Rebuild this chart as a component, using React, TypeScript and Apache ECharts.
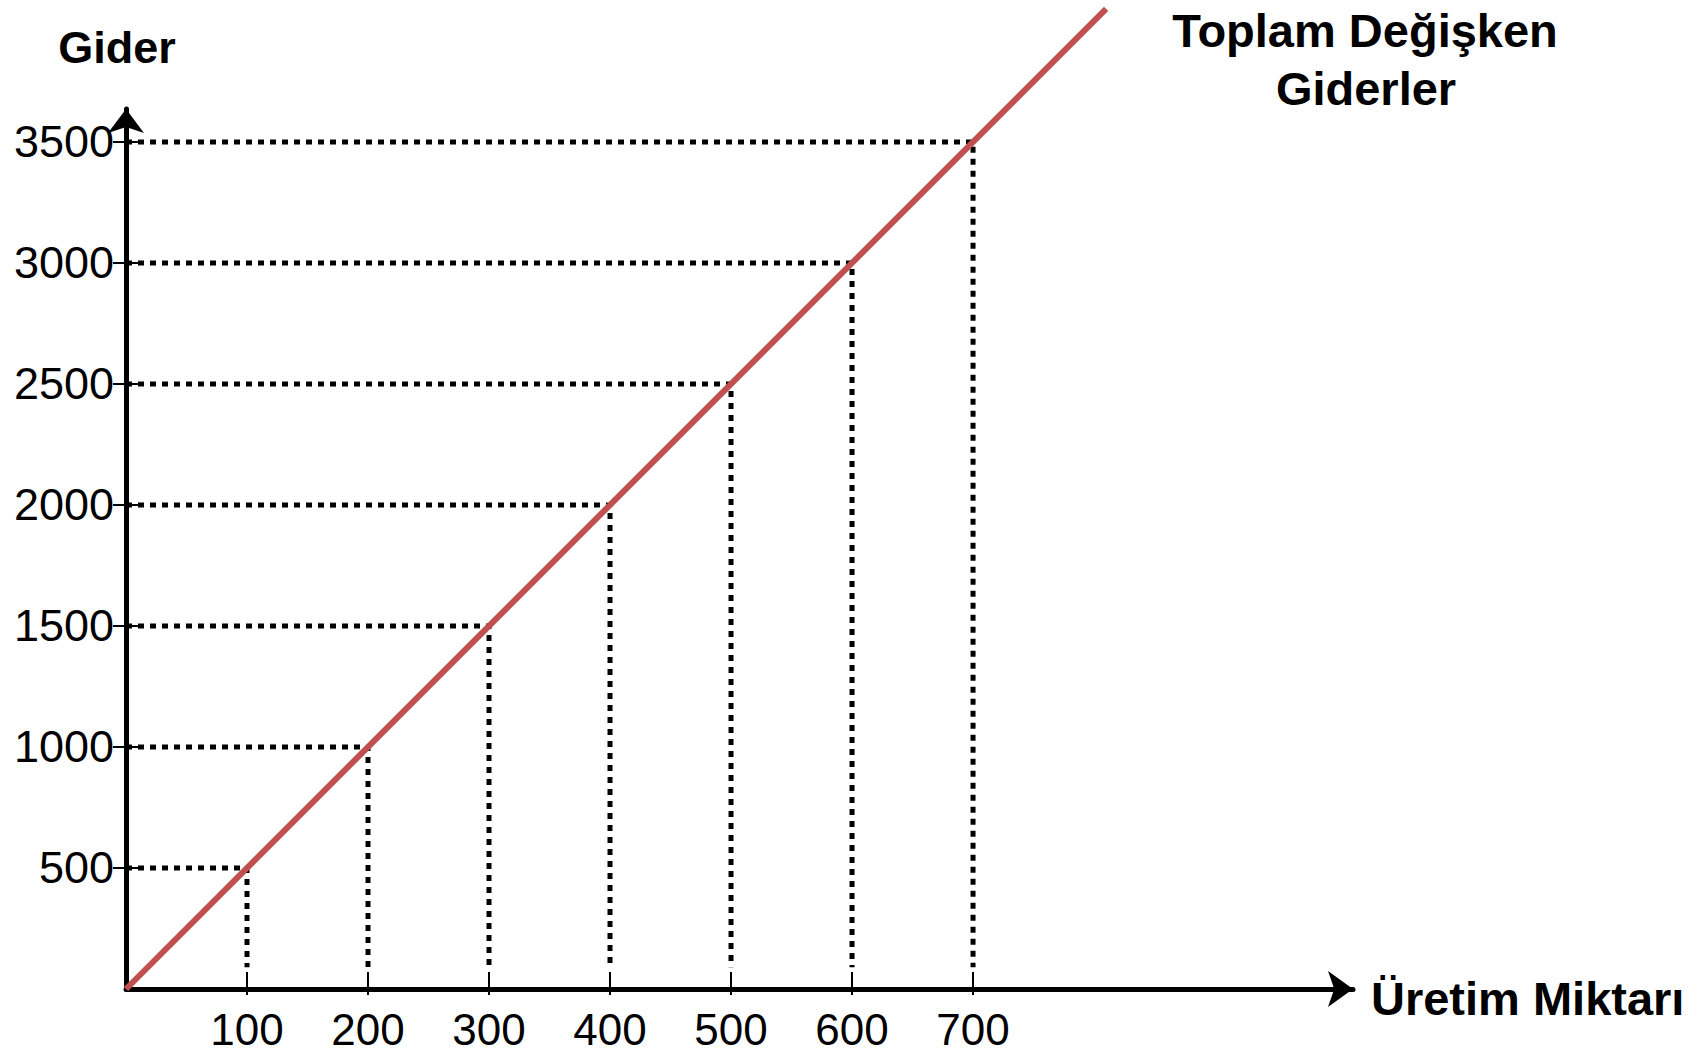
import React, { useEffect, useRef } from "react";
import * as echarts from "echarts";

// Üretim miktarı (x) and the matching toplam değişken gider (y) guide points
const quantities = [100, 200, 300, 400, 500, 600, 700];
const costs = [500, 1000, 1500, 2000, 2500, 3000, 3500];
const xTickValues = [100, 200, 300, 400, 500, 600, 700];
const yTickValues = [500, 1000, 1500, 2000, 2500, 3000, 3500];
// Toplam değişken giderler: cost = 5 × quantity, drawn from origin past the top
const costLineX = [0, 810];
const costLineY = [0, 4050];

const X_MAX = 1014;
const Y_MAX = 3636;
const DROP_END = 90; // vertical guide lines stop a little above the x axis

const FONT = "'Liberation Sans', Arial, Helvetica, sans-serif";

export default function App() {
  const ref = useRef<HTMLDivElement>(null);

  useEffect(() => {
    if (!ref.current) return;
    const chart = echarts.init(ref.current, null, { renderer: "svg" });

    const guideSeries = quantities.map((q, i) => ({
      type: "line",
      name: "guide" + q,
      data: [
        [0, costs[i]],
        [q, costs[i]],
        [q, DROP_END],
      ],
      symbol: "none",
      silent: true,
      z: 2,
      lineStyle: { color: "#000", width: 5, type: [6, 6], cap: "butt" },
    }));

    const lineSeries = {
      type: "line",
      name: "Toplam Değişken Giderler",
      data: costLineX.map((x, i) => [x, costLineY[i]]),
      symbol: "none",
      clip: false,
      z: 5,
      lineStyle: { color: "#C0504D", width: 6 },
    };

    const plain = (v: number) => String(v);

    chart.setOption({
      animation: false,
      backgroundColor: "#ffffff",
      grid: {
        left: 126,
        right: 1707 - 1353,
        top: 109,
        bottom: 1054 - 989,
        containLabel: false,
        outerBoundsMode: "none",
      },
      xAxis: [
        {
          type: "value",
          min: 0,
          max: X_MAX,
          position: "bottom",
          splitLine: { show: false },
          axisLine: {
            show: true,
            symbol: ["none", "arrow"],
            symbolSize: [27, 25],
            lineStyle: { color: "#000", width: 5 },
          },
          axisTick: {
            show: true,
            inside: true,
            length: 17,
            customValues: xTickValues,
            lineStyle: { color: "#000", width: 2 },
          },
          axisLabel: {
            show: true,
            customValues: xTickValues,
            formatter: plain,
            color: "#000",
            fontSize: 44,
            fontFamily: FONT,
            margin: 18,
          },
        },
        {
          type: "value",
          min: 0,
          max: X_MAX,
          position: "bottom",
          splitLine: { show: false },
          axisLine: { show: false },
          axisTick: {
            show: true,
            inside: false,
            length: 6,
            customValues: xTickValues,
            lineStyle: { color: "#000", width: 2 },
          },
          axisLabel: { show: false },
        },
      ],
      yAxis: [
        {
          type: "value",
          min: 0,
          max: Y_MAX,
          position: "left",
          splitLine: { show: false },
          axisLine: {
            show: true,
            symbol: ["none", "arrow"],
            symbolSize: [27, 24],
            lineStyle: { color: "#000", width: 5 },
          },
          axisTick: {
            show: true,
            inside: false,
            length: 13,
            customValues: yTickValues,
            lineStyle: { color: "#000", width: 2 },
          },
          axisLabel: {
            show: true,
            customValues: yTickValues,
            formatter: plain,
            color: "#000",
            fontSize: 45,
            fontFamily: FONT,
            margin: 12,
            padding: [0, 0, 10, 0],
          },
        },
        {
          type: "value",
          min: 0,
          max: Y_MAX,
          position: "left",
          splitLine: { show: false },
          axisLine: { show: false },
          axisTick: {
            show: true,
            inside: true,
            length: 16,
            customValues: yTickValues,
            lineStyle: { color: "#000", width: 2 },
          },
          axisLabel: { show: false },
        },
      ],
      graphic: [
        {
          type: "text",
          x: 117,
          y: 47.5,
          style: {
            text: "Gider",
            font: `bold 45px ${FONT}`,
            fill: "#000",
            textAlign: "center",
            textVerticalAlign: "middle",
          },
        },
        {
          type: "text",
          x: 1371,
          y: 998,
          style: {
            text: "Üretim Miktarı",
            font: `bold 47px ${FONT}`,
            fill: "#000",
            textAlign: "left",
            textVerticalAlign: "middle",
          },
        },
        {
          type: "text",
          x: 1365,
          y: 30,
          style: {
            text: "Toplam Değişken",
            font: `bold 47px ${FONT}`,
            fill: "#000",
            textAlign: "center",
            textVerticalAlign: "middle",
          },
        },
        {
          type: "text",
          x: 1366,
          y: 88,
          style: {
            text: "Giderler",
            font: `bold 47px ${FONT}`,
            fill: "#000",
            textAlign: "center",
            textVerticalAlign: "middle",
          },
        },
      ],
      series: [...guideSeries, lineSeries],
    });

    return () => {
      chart.dispose();
    };
  }, []);

  return (
    <div
      ref={ref}
      style={{
        position: "absolute",
        left: 0,
        top: 0,
        width: 1707,
        height: 1054,
        background: "#ffffff",
      }}
    />
  );
}
